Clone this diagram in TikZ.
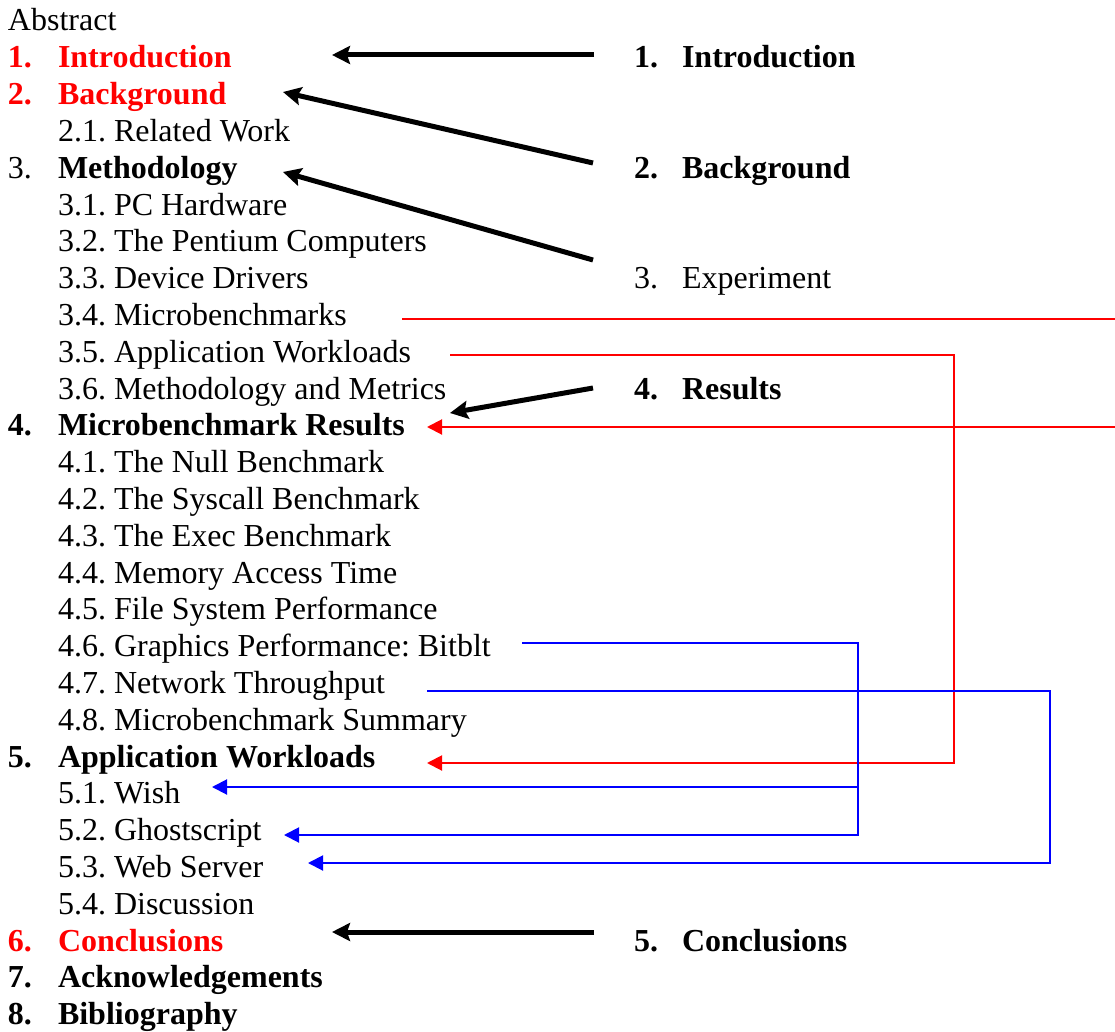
\documentclass[tikz,border=0pt]{standalone}
\usepackage{fontspec}
\setmainfont{Liberation Serif}
\usetikzlibrary{arrows.meta}
\frenchspacing
\begin{document}
\begin{tikzpicture}[x=1pt,y=-1pt,
  entry/.style={anchor=base west,inner sep=0pt,outer sep=0pt,font=\fontsize{32}{36}\selectfont\frenchspacing},
  hd/.style={entry,font=\fontsize{32}{36}\selectfont\bfseries\frenchspacing},
  redhd/.style={hd,text=red},
  bigarrow/.style={line width=5pt,-{Stealth[length=18pt,width=18pt,inset=3pt]}},
  redlink/.style={draw=red,line width=2pt},
  bluelink/.style={draw=blue,line width=2pt},
  thintip/.style={-{Triangle[length=15pt,width=15pt]}}]
\useasboundingbox (0,0) rectangle (1115,1032);
% left column
\node[entry] (abs) at (8,31) {Abstract};
\node[redhd] (n1) at (8,67.8) {1.};
\node[redhd] (intro) at (58,67.8) {Introduction};
\node[redhd] (n2) at (8,104.6) {2.};
\node[redhd] (back) at (58,104.6) {Background};
\node[entry] (s21) at (58,141.4) {2.1. Related Work};
\node[entry] (n3) at (8,178.2) {3.};
\node[hd] (meth) at (58,178.2) {Methodology};
\node[entry] (s31) at (58,215) {3.1. PC Hardware};
\node[entry] (s32) at (58,251.8) {3.2. The Pentium Computers};
\node[entry] (s33) at (58,288.6) {3.3. Device Drivers};
\node[entry] (s34) at (58,325.4) {3.4. Microbenchmarks};
\node[entry] (s35) at (58,362.2) {3.5. Application Workloads};
\node[entry] (s36) at (58,399) {3.6. Methodology and Metrics};
\node[hd] (n4) at (8,435.8) {4.};
\node[hd] (mres) at (58,435.8) {Microbenchmark Results};
\node[entry] (s41) at (58,472.6) {4.1. The Null Benchmark};
\node[entry] (s42) at (58,509.4) {4.2. The Syscall Benchmark};
\node[entry] (s43) at (58,546.2) {4.3. The Exec Benchmark};
\node[entry] (s44) at (58,583) {4.4. Memory Access Time};
\node[entry] (s45) at (58,619.8) {4.5. File System Performance};
\node[entry] (s46) at (58,656.6) {4.6. Graphics Performance: Bitblt};
\node[entry] (s47) at (58,693.4) {4.7. Network Throughput};
\node[entry] (s48) at (58,730.2) {4.8. Microbenchmark Summary};
\node[hd] (n5) at (8,767) {5.};
\node[hd] (appw) at (58,767) {Application Workloads};
\node[entry] (s51) at (58,803.8) {5.1. Wish};
\node[entry] (s52) at (58,840.6) {5.2. Ghostscript};
\node[entry] (s53) at (58,877.4) {5.3. Web Server};
\node[entry] (s54) at (58,914.2) {5.4. Discussion};
\node[redhd] (n6) at (8,951) {6.};
\node[redhd] (concl) at (58,951) {Conclusions};
\node[hd] (n7) at (8,987.8) {7.};
\node[hd] (ack) at (58,987.8) {Acknowledgements};
\node[hd] (n8) at (8,1024.6) {8.};
\node[hd] (bib) at (58,1024.6) {Bibliography};
% right column
\node[hd] (r1n) at (634,67.8) {1.};
\node[hd] (r1) at (682,67.8) {Introduction};
\node[hd] (r2n) at (634,178.2) {2.};
\node[hd] (r2) at (682,178.2) {Background};
\node[entry] (r3n) at (634,288.6) {3.};
\node[entry] (r3) at (682,288.6) {Experiment};
\node[hd] (r4n) at (634,399) {4.};
\node[hd] (r4) at (682,399) {Results};
\node[hd] (r5n) at (634,951) {5.};
\node[hd] (r5) at (682,951) {Conclusions};
% connector end points
\coordinate (a1s) at (594,55);   \coordinate (a1e) at (332,55);
\coordinate (a2s) at (593,163);  \coordinate (a2e) at (283,92);
\coordinate (a3s) at (593,260);  \coordinate (a3e) at (283,172);
\coordinate (a4s) at (593,388);  \coordinate (a4e) at (450,413);
\coordinate (a5s) at (594,932);  \coordinate (a5e) at (332,932);
\coordinate (m34) at (402,319);  \coordinate (m4) at (427,427);
\coordinate (m35) at (450,355);  \coordinate (m5) at (427,763);
\coordinate (b46) at (522,643);  \coordinate (b51) at (212,787);
\coordinate (b52) at (284,835);
\coordinate (b47) at (427,691);  \coordinate (b53) at (308,863);
% black arrows
\draw[bigarrow] (a1s) -- (a1e);
\draw[bigarrow] (a2s) -- (a2e);
\draw[bigarrow] (a3s) -- (a3e);
\draw[bigarrow] (a4s) -- (a4e);
\draw[bigarrow] (a5s) -- (a5e);
% red connectors
\draw[redlink,thintip] (m34) -- (1135,319) -- (1135,427) -- (m4);
\draw[redlink,thintip] (m35) -- (954,355) -- (954,763) -- (m5);
% blue connectors
\draw[bluelink,thintip] (b46) -- (858,643) -- (858,835) -- (b52);
\draw[bluelink,thintip] (858,787) -- (b51);
\draw[bluelink,thintip] (b47) -- (1050,691) -- (1050,863) -- (b53);
\end{tikzpicture}
\end{document}
